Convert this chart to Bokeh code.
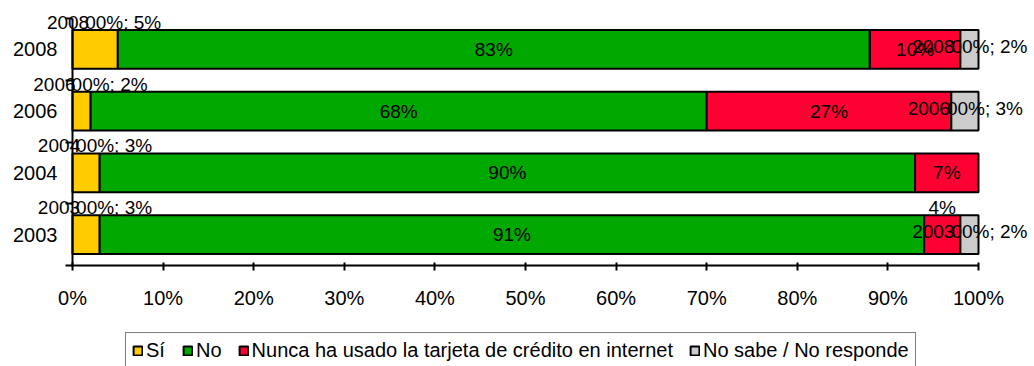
from bokeh.plotting import figure
from bokeh.models import ColumnDataSource, FixedTicker, Range1d, Legend, LegendItem
from bokeh.core.properties import value
from bokeh.embed import file_html
from bokeh.resources import INLINE

# Survey years (bottom to top) and the share of answers per option, in %
years = ["2003", "2004", "2006", "2008"]
si = [3, 3, 2, 5]
no = [91, 90, 68, 83]
nunca = [4, 7, 27, 10]
nsnr = [2, 0, 3, 2]

series_names = ["Sí", "No",
                "Nunca ha usado la tarjeta de crédito en internet",
                "No sabe / No responde"]
series_values = [si, no, nunca, nsnr]
colors = ["#FFCC00", "#00A800", "#FF0033", "#CCCCCC"]

x_ticks = [0, 10, 20, 30, 40, 50, 60, 70, 80, 90, 100]

FONT = value("Liberation Sans")
BAR_H = 0.63

# canvas and plotting-area geometry (pixels)
W, H = 1034, 366
AX_LEFT, AX_RIGHT = 72, 978      # x = 0% and x = 100%
AX_TOP, AX_BOTTOM = 18, 265      # top of the category axis and the x axis line

n = len(years)
sx = (AX_RIGHT - AX_LEFT) / 100.0
sy = (AX_BOTTOM - AX_TOP) / n
x_range = Range1d(-AX_LEFT / sx, 100 + (W - AX_RIGHT) / sx)
y_range = Range1d(-(H - AX_BOTTOM) / sy, n + AX_TOP / sy)

p = figure(width=W, height=H, output_backend="svg", toolbar_location=None,
           x_range=x_range, y_range=y_range, min_border=0)
p.title.visible = False
p.outline_line_color = None
p.xgrid.visible = False
p.ygrid.visible = False
p.background_fill_color = "white"
p.border_fill_color = "white"

ypos = [i + 0.5 for i in range(n)]

# stacked horizontal bars
renderers = []
left = [0.0] * n
for name, vals, col in zip(series_names, series_values, colors):
    right = [l + v for l, v in zip(left, vals)]
    keep = [i for i, v in enumerate(vals) if v > 0]
    src = ColumnDataSource(dict(
        y=[ypos[i] for i in keep],
        left=[left[i] for i in keep],
        right=[right[i] for i in keep],
    ))
    r = p.hbar(y="y", left="left", right="right", height=BAR_H, source=src,
               fill_color=col, line_color="black", line_width=2)
    renderers.append(r)
    left = right

# centre of every segment, for the value labels
c_si = [v / 2 for v in si]
c_no = [s + v / 2 for s, v in zip(si, no)]
c_nunca = [s + m + v / 2 for s, m, v in zip(si, no, nunca)]
c_nsnr = [s + m + u + v / 2 for s, m, u, v in zip(si, no, nunca, nsnr)]

LABEL_SIZE = "19px"


def put_text(xs, ys, texts, x_off=0, y_off=0, align="center"):
    src = ColumnDataSource(dict(x=xs, y=ys, t=texts))
    p.text(x="x", y="y", text="t", source=src, x_offset=x_off, y_offset=y_off,
           text_align=align, text_baseline="middle", text_color="black",
           text_font=FONT, text_font_size=LABEL_SIZE)


# "No" values inside the green bars
put_text(c_no, ypos, [f"{v}%" for v in no])

# "Nunca" values: inside the red bar, or above it when the bar is narrow
inside = [i for i, v in enumerate(nunca) if v >= 6]
above = [i for i, v in enumerate(nunca) if 0 < v < 6]
put_text([c_nunca[i] for i in inside], [ypos[i] for i in inside],
         [f"{nunca[i]}%" for i in inside])
put_text([c_nunca[i] for i in above], [ypos[i] for i in above],
         [f"{nunca[i]}%" for i in above], y_off=-27)

# "Sí" labels above the yellow bars (year and value pieces)
put_text(c_si, ypos, years, x_off=-6, y_off=-27, align="right")
put_text(c_si, ypos, [f"00%; {v}%" for v in si], x_off=-10, y_off=-27, align="left")

# "No sabe / No responde" labels next to the grey bars
ns_idx = [i for i, v in enumerate(nsnr) if v > 0]
put_text([c_nsnr[i] for i in ns_idx], [ypos[i] for i in ns_idx],
         [years[i] for i in ns_idx], x_off=-15, y_off=-3, align="right")
put_text([c_nsnr[i] for i in ns_idx], [ypos[i] for i in ns_idx],
         [f"00%; {nsnr[i]}%" for i in ns_idx], x_off=-18, y_off=-3, align="left")

# x axis: percentages, drawn on y = 0
xa = p.xaxis[0]
xa.fixed_location = 0
xa.bounds = (0, 100)
xa.ticker = FixedTicker(ticks=x_ticks)
xa.major_label_overrides = {t: f"{t}%" for t in x_ticks}
xa.axis_line_color = "black"
xa.axis_line_width = 2
xa.major_tick_line_color = "black"
xa.major_tick_line_width = 2
xa.major_tick_in = 3
xa.major_tick_out = 5
xa.minor_tick_line_color = None
xa.major_label_standoff = 16
xa.major_label_text_font = "Liberation Sans"
xa.major_label_text_font_size = "20px"
xa.major_label_text_color = "black"

# y axis: years at band centres, ticks at band boundaries, drawn on x = 0
ya = p.yaxis[0]
ya.fixed_location = 0
ya.bounds = (0, n)
ya.ticker = FixedTicker(ticks=ypos, minor_ticks=list(range(n + 1)))
ya.major_label_overrides = {y: yr for y, yr in zip(ypos, years)}
ya.axis_line_color = "black"
ya.axis_line_width = 2
ya.major_tick_line_color = None
ya.major_tick_in = 0
ya.major_tick_out = 0
ya.minor_tick_line_color = "black"
ya.minor_tick_line_width = 2
ya.minor_tick_in = 0
ya.minor_tick_out = 7
ya.major_label_standoff = 8
ya.major_label_text_font = "Liberation Sans"
ya.major_label_text_font_size = "20px"
ya.major_label_text_color = "black"

legend = Legend(
    items=[LegendItem(label=nm, renderers=[r]) for nm, r in zip(series_names, renderers)],
    orientation="horizontal",
    location=(125, -3),
    label_text_font="Liberation Sans",
    label_text_font_size="20px",
    label_text_color="black",
    glyph_width=11, glyph_height=11,
    label_standoff=3, spacing=16, padding=6, margin=0,
    border_line_color="black", border_line_width=1.5,
    background_fill_color="white", background_fill_alpha=1.0,
)
p.add_layout(legend)

open("out.html", "w").write(file_html(p, INLINE))
